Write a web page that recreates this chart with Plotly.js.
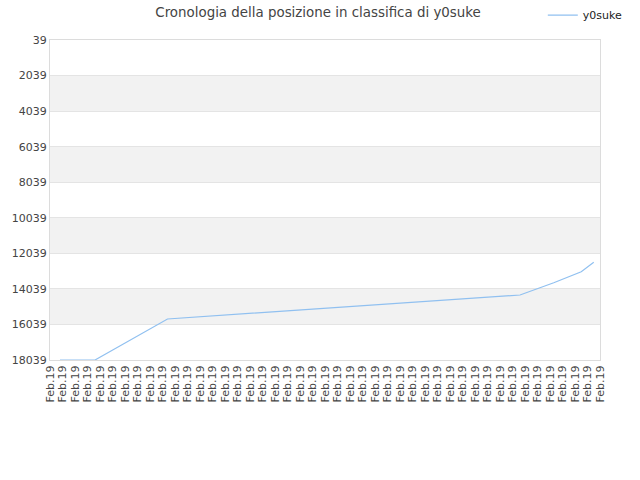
<!DOCTYPE html>
<html>
<head>
<meta charset="utf-8">
<script src="https://cdn.plot.ly/plotly-3.0.1.min.js"></script>
<style>
  html, body { margin: 0; padding: 0; background: #fff; }
  #chart { width: 640px; height: 480px; }
</style>
</head>
<body>
<div id="chart"></div>
<script>
// tick labels along the bottom (all the same date)
const tickLabels = Array.from({ length: 45 }, () => "Feb.19");
// position on the x scale (in tick units) and rank at that spot
const dayPos = [0.8, 3.6, 9.4, 37.6, 40.3, 42.5, 43.5];
const ranks = [18039, 18039, 15733, 14383, 13691, 13072, 12543];
const rankTicks = [39, 2039, 4039, 6039, 8039, 10039, 12039, 14039, 16039, 18039];

// grey bands between every other pair of ticks
const bands = [];
for (let i = 1; i + 1 < rankTicks.length; i += 2) {
    bands.push({
        type: "rect", xref: "paper", yref: "y", layer: "below",
        x0: 0, x1: 1, y0: rankTicks[i], y1: rankTicks[i + 1],
        fillcolor: "#f2f2f2", line: { width: 0 }
    });
}

const trace = {
    x: dayPos,
    y: ranks,
    type: "scatter",
    mode: "lines",
    name: "y0suke",
    line: { color: "#90c0f0", width: 1.2 },
    hoverinfo: "y"
};

Plotly.newPlot("chart", [trace], {
    width: 640,
    height: 480,
    margin: { l: 50, r: 40, t: 40, b: 120, autoexpand: false },
    paper_bgcolor: "#fff",
    plot_bgcolor: "#fff",
    font: { family: "DejaVu Sans, sans-serif", size: 11, color: "#444" },
    title: {
        text: "Cronologia della posizione in classifica di y0suke",
        x: 0.497, xanchor: "center", y: 0.975, yanchor: "middle",
        font: { size: 13.4, color: "#444" }
    },
    showlegend: true,
    legend: {
        x: 0.896, xanchor: "left", y: 1.078, yanchor: "middle",
        orientation: "h", font: { size: 11, color: "#222" },
        bgcolor: "rgba(0,0,0,0)"
    },
    shapes: bands,
    xaxis: {
        range: [0, 44],
        tickmode: "array",
        tickvals: tickLabels.map((_, i) => i),
        ticktext: tickLabels,
        tickangle: -90,
        showgrid: false,
        zeroline: false,
        showline: true,
        linecolor: "#dcdcdc",
        mirror: true,
        ticks: "",
        tickfont: { size: 11, color: "#444" }
    },
    yaxis: {
        range: [18039, 39],
        tickmode: "array",
        tickvals: rankTicks,
        ticktext: rankTicks.map(String),
        showgrid: true,
        gridcolor: "#e4e4e4",
        zeroline: false,
        showline: true,
        linecolor: "#dcdcdc",
        mirror: true,
        ticks: "",
        tickfont: { size: 11, color: "#444" }
    }
}, { displayModeBar: false, staticPlot: true });
</script>
</body>
</html>
